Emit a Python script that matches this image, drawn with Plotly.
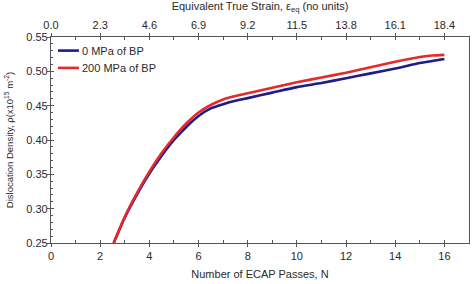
import plotly.graph_objects as go

passes = [2.55, 3.0, 3.5, 4.0, 4.5, 5.0, 5.5, 6.0, 6.5, 7.0, 7.5, 8.0, 9.0, 10.0, 11.0, 12.0, 13.0, 14.0, 15.0, 15.5, 16.0]
rho_0mpa = [0.250, 0.287, 0.321, 0.351, 0.377, 0.400, 0.419, 0.435, 0.446, 0.452, 0.457, 0.461, 0.469, 0.477, 0.483, 0.490, 0.497, 0.504, 0.512, 0.515, 0.518]
rho_200mpa = [0.250, 0.288, 0.323, 0.354, 0.381, 0.404, 0.424, 0.440, 0.451, 0.459, 0.464, 0.468, 0.476, 0.484, 0.491, 0.498, 0.506, 0.514, 0.521, 0.523, 0.524]

series_names = ["0 MPa of BP", "200 MPa of BP"]
series_colors = ["#1c1c8a", "#e52a2a"]

bottom_ticks = [0, 2, 4, 6, 8, 10, 12, 14, 16]
strain_labels = ["0.0", "2.3", "4.6", "6.9", "9.2", "11.5", "13.8", "16.1", "18.4"]

FONT = "Liberation Sans, Arial, sans-serif"
AX = "#555555"
TXT = "#2a2a2a"

fig = go.Figure()
for yvals, nm, col in zip([rho_0mpa, rho_200mpa], series_names, series_colors):
    fig.add_trace(go.Scatter(x=passes, y=yvals, mode="lines", name=nm, showlegend=False,
                             line=dict(color=col, width=2.6, shape="spline", smoothing=0.6)))
# empty helper traces so the overlay axes get drawn
for xa, ya in [("x2", "y"), ("x3", "y"), ("x4", "y"), ("x", "y2")]:
    fig.add_trace(go.Scatter(x=[None], y=[None], xaxis=xa, yaxis=ya, mode="lines",
                             showlegend=False, hoverinfo="skip"))

# manual legend (short line segments followed by text, as in the reference)
leg_y = [0.934, 0.850]
for yy, nm, col in zip(leg_y, series_names, series_colors):
    fig.add_shape(type="line", xref="paper", yref="paper", x0=0.0167, x1=0.0668,
                  y0=yy, y1=yy, line=dict(color=col, width=2.6))
    fig.add_annotation(xref="paper", yref="paper", x=0.070, y=yy, text=nm,
                       showarrow=False, xanchor="left", yanchor="middle",
                       font=dict(size=11, color=TXT))

minor_x = dict(dtick=1, ticks="inside", ticklen=3, tickcolor=AX)
fig.update_layout(
    width=475, height=284,
    margin=dict(l=51, r=5, t=35, b=36),
    paper_bgcolor="white", plot_bgcolor="white",
    font=dict(family=FONT, size=11, color=TXT),
    showlegend=False,
    xaxis=dict(range=[0, 17], tickvals=bottom_ticks, ticks="outside", ticklen=3,
               tickcolor=AX, showline=True, linecolor=AX, linewidth=1.2,
               showgrid=False, zeroline=False,
               title=dict(text="Number of ECAP Passes, N", standoff=9,
                          font=dict(size=11, color=TXT))),
    xaxis3=dict(range=[0, 17], overlaying="x", side="bottom", tickvals=bottom_ticks,
                showticklabels=False, ticks="inside", ticklen=3, tickcolor=AX,
                showline=False, showgrid=False, zeroline=False, minor=minor_x),
    xaxis2=dict(range=[0, 17], overlaying="x", side="top", tickvals=bottom_ticks,
                ticktext=strain_labels, ticks="outside", ticklen=3, tickcolor=AX,
                showline=True, linecolor=AX, linewidth=1.2, showgrid=False,
                zeroline=False,
                title=dict(text="Equivalent True Strain, ε<sub>eq</sub> (no units)",
                           standoff=6, font=dict(size=11, color=TXT))),
    xaxis4=dict(range=[0, 17], overlaying="x", side="top", tickvals=bottom_ticks,
                showticklabels=False, ticks="inside", ticklen=3, tickcolor=AX,
                showline=False, showgrid=False, zeroline=False, minor=minor_x),
    yaxis=dict(range=[0.25, 0.55], dtick=0.05, tickformat=".2f", ticks="inside",
               ticklen=3, tickcolor=AX, showline=True, linecolor=AX, linewidth=1.2,
               mirror=True, showgrid=False, zeroline=False,
               minor=dict(dtick=0.01, ticks="inside", ticklen=2, tickcolor=AX),
               title=dict(text="Dislocation Density, ρ(x10<sup>15</sup> m<sup>-2</sup>)",
                          standoff=10, font=dict(size=9.5, color=TXT))),
    yaxis2=dict(range=[0.25, 0.55], dtick=0.05, overlaying="y", side="left",
                showticklabels=False, ticks="outside", ticklen=3, tickcolor=AX,
                showline=False, showgrid=False, zeroline=False),
)

fig.write_html("out.html")
